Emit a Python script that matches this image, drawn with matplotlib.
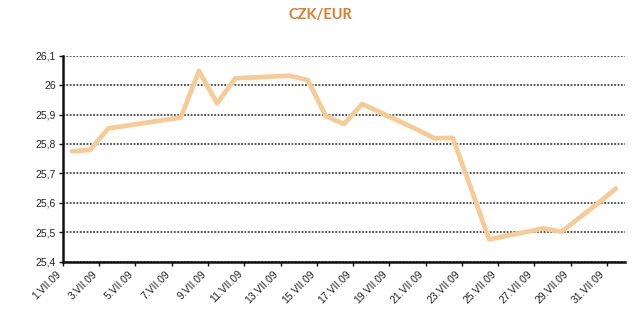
import matplotlib
matplotlib.use("Agg")
import matplotlib.pyplot as plt
import matplotlib.transforms as mtransforms

# Business days of July 2009 (day of month) and CZK/EUR fixing values
days = [1, 2, 3, 7, 8, 9, 10, 13, 14, 15, 16, 17, 20, 21, 22, 23, 24, 27, 28, 29, 30, 31]
values = [25.775, 25.78, 25.853, 25.89, 26.048, 25.938, 26.023, 26.032, 26.017, 25.895,
          25.868, 25.936, 25.85, 25.819, 25.821, 25.65, 25.476, 25.513, 25.502, 25.55,
          25.598, 25.649]
tick_days = list(range(1, 32, 2))
tick_labels = [f"{d}.VII.09" for d in tick_days]
y_ticks = [25.4, 25.5, 25.6, 25.7, 25.8, 25.9, 26.0, 26.1]
y_labels = ["25,4", "25,5", "25,6", "25,7", "25,8", "25,9", "26", "26,1"]

fig = plt.figure(figsize=(6.4, 3.19), dpi=100)
ax = fig.add_axes([0.0984, 0.1796, 0.8782, 0.6458])

ax.plot(days, values, color="#F7CB95", linewidth=3.4, solid_joinstyle="round",
        solid_capstyle="round", zorder=3)

ax.set_xlim(0.5, 31.5)
ax.set_ylim(25.4, 26.1)
ax.set_yticks(y_ticks)
ax.set_yticklabels(y_labels, fontsize=7.5, family="Liberation Sans", color="#222222")
ax.set_xticks([d - 0.5 for d in tick_days])
ax.set_xticklabels(tick_labels, fontsize=7.5, family="Liberation Sans", color="#222222",
                   rotation=45, ha="right", va="top")
offset = mtransforms.ScaledTranslation(10 / 100, -2 / 100, fig.dpi_scale_trans)
for lab in ax.get_xticklabels():
    lab.set_transform(lab.get_transform() + offset)

ax.tick_params(axis="both", direction="out", length=3, width=1, color="#111111", pad=2)
ax.yaxis.grid(True, color="#2a2a2a", linestyle=(0, (1.2, 1.0)), linewidth=1.1)
ax.set_axisbelow(True)

for s in ["top", "right"]:
    ax.spines[s].set_visible(False)
ax.spines["left"].set_linewidth(1.8)
ax.spines["bottom"].set_linewidth(1.8)
ax.spines["left"].set_color("#111111")
ax.spines["bottom"].set_color("#111111")

fig.text(0.5, 0.952, "CZK/EUR", ha="center", va="center", fontsize=10.5,
         fontweight="bold", color="#E07B2C", family="Lato")

fig.savefig("out.png", dpi=100)
